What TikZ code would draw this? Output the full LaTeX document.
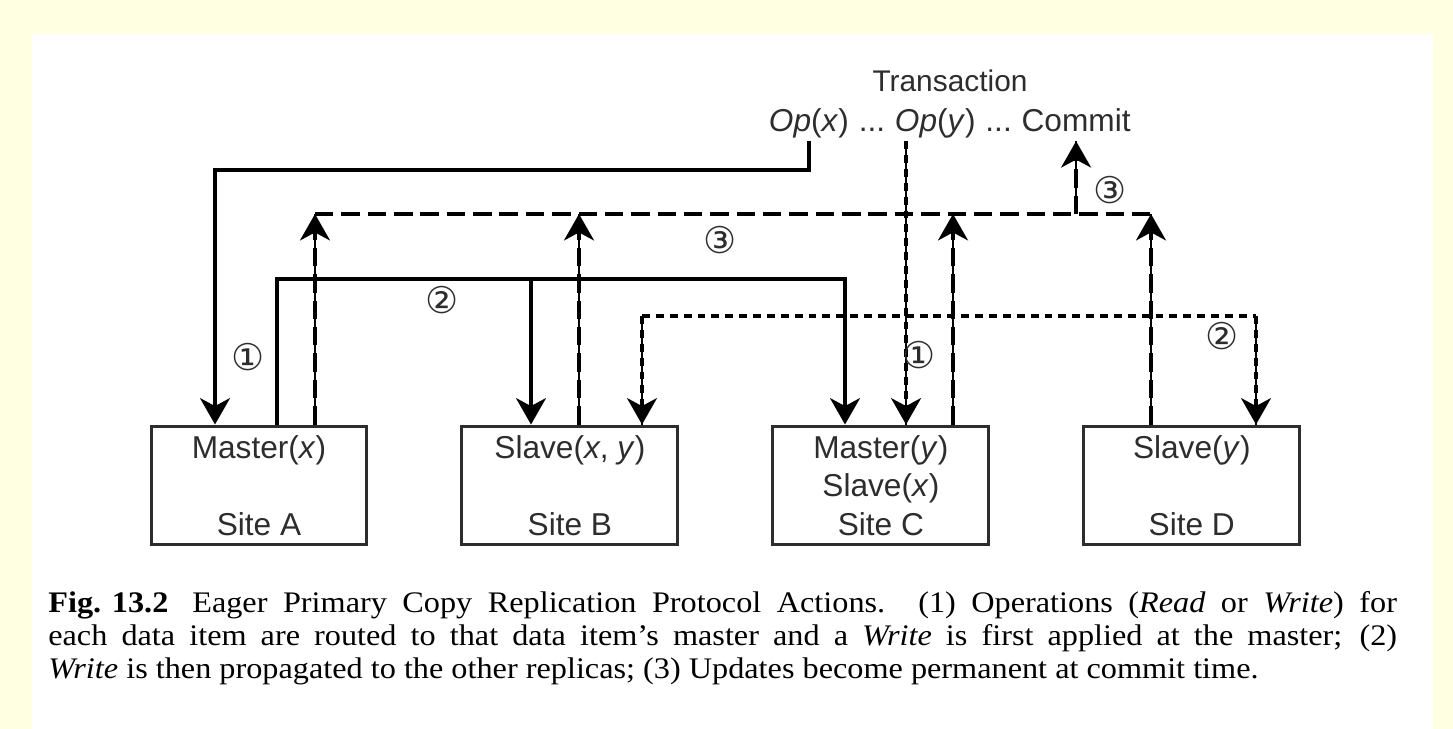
\documentclass[tikz,border=0pt]{standalone}
\usepackage{fontspec}
\setmainfont{Liberation Sans}
\newfontfamily\capfont[FakeStretch=1.08]{Liberation Serif}
\newfontfamily\numfont{DejaVu Sans}
\usetikzlibrary{arrows.meta,positioning,calc}
\definecolor{pagebg}{RGB}{255,255,225}
\definecolor{inkgray}{RGB}{45,45,45}

\tikzset{
  site/.style={draw=inkgray, line width=1.7pt, minimum width=4.32cm, minimum height=2.38cm,
    align=center, text=inkgray, font=\fontsize{18}{22}\selectfont},
  optext/.style={inner xsep=2.6pt, inner ysep=1pt, text depth=4pt, text=inkgray,
    font=\fontsize{18}{22}\selectfont},
  tip/.style={-{Stealth[length=15pt,width=17pt,inset=4.5pt]}},
  routed/.style={line width=2.2pt},
  ydash/.style={line width=2.2pt, dash pattern=on 4.5pt off 3.4pt},
  commitdash/.style={line width=2.2pt, dash pattern=on 10.5pt off 4.5pt},
  core/.style={preaction={draw, solid, line width=0.8pt, arrows=-}},
  circnum/.style={font=\numfont\fontsize{21}{21}\selectfont, text=inkgray, inner sep=0pt}
}

\begin{document}
\begin{tikzpicture}[x=0.02cm, y=-0.02cm]
  \useasboundingbox (0,0) rectangle (1453,729);
  \fill[pagebg] (0,0) rectangle (1453,729);
  \fill[white] (32,34) rectangle (1433,729);

  % sites
  \node[site] (siteA) at (259,485.5) {Master(\textit{x})\\[22pt]Site A};
  \node[site, right=1.84cm of siteA] (siteB) {Slave(\textit{x}, \textit{y})\\[22pt]Site B};
  \node[site, right=1.84cm of siteB] (siteC) {Master(\textit{y})\\Slave(\textit{x})\\Site C};
  \node[site, right=1.84cm of siteC] (siteD) {Slave(\textit{y})\\[22pt]Site D};

  % transaction
  \node[optext, anchor=base, font=\fontsize{17}{21}\selectfont] (trans) at (950,92) {Transaction};
  \node[optext, anchor=base west] (opx) at (764,132) {\textit{Op}(\textit{x})};
  \node[optext, base right=0pt of opx] (dots1) {...};
  \node[optext, base right=0pt of dots1] (opy) {\textit{Op}(\textit{y})};
  \node[optext, base right=0pt of opy] (dots2) {...};
  \node[optext, base right=0pt of dots2] (commit) {Commit};

  \coordinate (xturn) at (215,170);
  \coordinate (ydrop) at ($(opy.south west)+(16,0)$);
  \coordinate (xbusW) at (277,279);
  \coordinate (xbusB) at (531,279);
  \coordinate (xbusE) at (845,279);
  \coordinate (ybusW) at (642,316);
  \coordinate (ybusE) at (1256,316);
  \coordinate (cbusW) at (315,214);
  \coordinate (cbusE) at (1151,214);

  % (1) route to master
  \draw[routed, tip] (opx.south) |- (xturn) -- (xturn |- siteA.north);
  \draw[ydash, core, tip] (ydrop) -- (ydrop |- siteC.north);

  % (2) propagate
  \draw[routed, tip] (xbusW |- siteA.north) |- (xbusE) -- (xbusE |- siteC.north);
  \draw[routed, tip] (xbusB) -- (xbusB |- siteB.north);
  \draw[ydash] (ybusW) -- (ybusE);
  \draw[ydash, core, tip] (ybusW) -- (ybusW |- siteB.north);
  \draw[ydash, core, tip] (ybusE) -- (ybusE |- siteD.north);

  % (3) commit
  \draw[commitdash] (cbusW) -- (cbusE);
  \foreach \s/\x in {siteA/315, siteB/579, siteC/953, siteD/1151} {
    \coordinate (up\s) at (\x,214);
    \draw[commitdash, core, tip] (up\s |- \s.north) -- (up\s);
  }
  \draw[commitdash, core, tip] (cbusW -| commit) -- (commit.south);

  \node[circnum] (oneA) at (248,357) {①};
  \node[circnum] (oneC) at (919,355) {①};
  \node[circnum] (twoB) at (442,300) {②};
  \node[circnum] (twoD) at (1222,336) {②};
  \node[circnum] (threeW) at (720,240) {③};
  \node[circnum] (threeE) at (1110,190) {③};

  \node[anchor=north west, inner sep=0pt, text width=26.98cm, align=justify,
    font=\capfont\fontsize{17}{18.7}\selectfont] (caption) at (48,591)
    {\mbox{\textbf{Fig. 13.2}}\hspace{0.8em}Eager Primary Copy Replication Protocol Actions. (1) Operations (\textit{Read} or \textit{Write}) for\linebreak
     each data item are routed to that data item’s master and a \textit{Write} is first applied at the master; (2)\linebreak
     \textit{Write} is then propagated to the other replicas; (3) Updates become permanent at commit time.};
\end{tikzpicture}
\end{document}
